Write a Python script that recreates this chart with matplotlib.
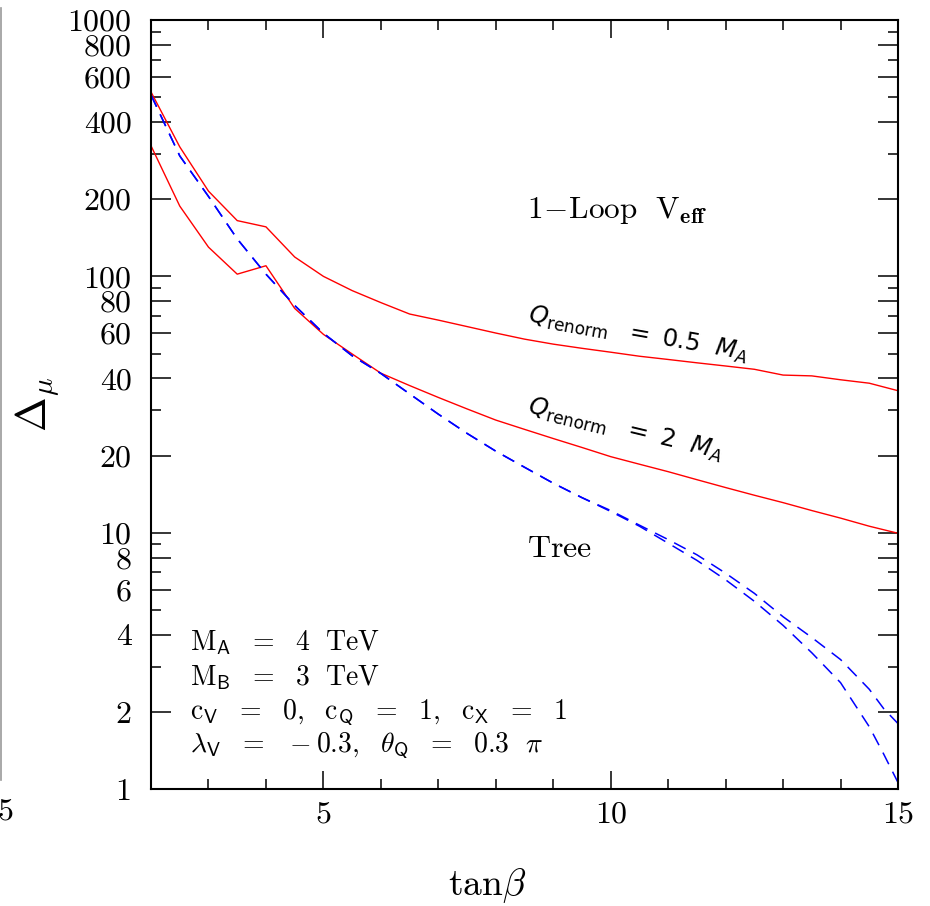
import numpy as np
import matplotlib
matplotlib.use("Agg")
import matplotlib.pyplot as plt
from matplotlib.ticker import FixedLocator, NullFormatter
from matplotlib.lines import Line2D

plt.rcParams["font.family"] = "serif"
plt.rcParams["font.serif"] = ["cmr10", "DejaVu Serif"]
plt.rcParams["mathtext.fontset"] = "cm"
plt.rcParams["axes.unicode_minus"] = False

# tan(beta) grid
tanb = [2.0, 2.5, 3.0, 3.5, 4.0, 4.5, 5.0, 5.5, 6.0, 6.5, 7.0, 7.5, 8.0, 8.5,
        9.0, 9.5, 10.0, 10.5, 11.0, 11.5, 12.0, 12.5, 13.0, 13.5, 14.0, 14.5, 15.0]

# one-loop effective potential, Q_renorm = 0.5 M_A
loop_half = [524, 320, 215, 165, 156, 119, 100, 88, 79, 71.3, 67.5, 63.7, 60.1, 56.9,
             54.4, 52.4, 50.6, 48.8, 47.4, 46.0, 44.7, 43.4, 41.2, 40.9, 39.5, 38.3, 35.8]

# one-loop effective potential, Q_renorm = 2 M_A
loop_two = [323, 188, 130, 102, 110, 75, 59.4, 49.8, 41.9, 37.5, 33.7, 30.4, 27.5, 25.3,
            23.3, 21.5, 19.8, 18.5, 17.3, 16.1, 15.0, 14.0, 13.1, 12.2, 11.4, 10.6, 9.95]

# tree-level curves
tanb_tree = [2.0, 2.5, 3.0, 3.5, 4.0, 4.5, 5.0, 5.5, 6.0, 6.5, 7.0, 7.5, 8.0, 8.5,
             9.0, 9.5, 10.0, 10.5, 11.0, 11.5, 12.0, 12.5, 13.0, 13.5, 14.0, 14.5,
             14.75, 15.0]
tree_a = [510, 295, 205, 140, 102, 77, 60, 49, 41.8, 34.8, 29.0, 24.4, 20.8, 18.0,
          15.6, 13.7, 12.2, 10.7, 9.4, 8.2, 6.95, 5.8, 4.7, 3.9, 3.2, 2.45, 2.06, 1.8]
tree_b = [510, 295, 205, 140, 102, 77, 60, 49, 41.8, 34.8, 29.0, 24.4, 20.8, 18.0,
          15.6, 13.7, 12.1, 10.6, 9.1, 7.8, 6.55, 5.4, 4.35, 3.4, 2.6, 1.75, 1.37, 1.06]

y_major = [1, 2, 4, 6, 8, 10, 20, 40, 60, 80, 100, 200, 400, 600, 800, 1000]
y_major_labels = ["1", "2", "4", "6", "8", "10", "20", "40", "60", "80",
                  "100", "200", "400", "600", "800", "1000"]
y_minor = [3, 5, 7, 9, 30, 50, 70, 90, 300, 500, 700, 900]
x_major = [5, 10, 15]
x_major_labels = ["5", "10", "15"]
x_minor = [3, 4, 6, 7, 8, 9, 11, 12, 13, 14]

fig = plt.figure(figsize=(9.30, 9.06), dpi=100)
ax = fig.add_axes([0.1624, 0.1291, 0.8032, 0.8488])

ax.plot(tanb, loop_half, color="red", lw=1.0)
ax.plot(tanb, loop_two, color="red", lw=1.0)
ax.plot(tanb_tree, tree_a, color="blue", lw=1.1, linestyle=(0, (8.5, 5.5)))
ax.plot(tanb_tree, tree_b, color="blue", lw=1.1, linestyle=(0, (8.5, 5.5)))

ax.set_yscale("log")
ax.set_xlim(2, 15)
ax.set_ylim(1, 1000)

ax.yaxis.set_major_locator(FixedLocator(y_major))
ax.yaxis.set_minor_locator(FixedLocator(y_minor))
ax.set_yticklabels(y_major_labels)
ax.yaxis.set_minor_formatter(NullFormatter())
ax.xaxis.set_major_locator(FixedLocator(x_major))
ax.xaxis.set_minor_locator(FixedLocator(x_minor))
ax.set_xticklabels(x_major_labels)

ax.tick_params(axis="both", which="both", direction="in", top=True, right=True,
               color="black", width=1.1)
ax.tick_params(axis="y", which="major", length=14.5, pad=14, labelsize=23)
ax.tick_params(axis="y", which="minor", length=7)
ax.tick_params(axis="x", which="major", length=13, pad=9, labelsize=23)
ax.tick_params(axis="x", which="minor", length=7)
for sp in ax.spines.values():
    sp.set_linewidth(1.5)

ax.set_xlabel(r"$\mathrm{tan}\beta$", fontsize=27)
ax.xaxis.set_label_coords(0.45, -0.1)
ax.set_ylabel(r"$\Delta_\mu$", fontsize=30)
ax.yaxis.set_label_coords(-0.121, 0.5)

ax.text(8.54, 169, r"$\mathrm{1\!-\!Loop\ \ V}_{\mathsf{\mathbf{eff}}}$",
        fontsize=22.5, ha="left", va="baseline")
ax.text(8.54, 8.04, r"$\mathrm{Tree}$", fontsize=23, ha="left", va="baseline")

ax.text(8.54, 66.6, r"$Q_{\mathrm{renorm}}\ \ =\ \mathit{0.5}\ \ M_A$",
        math_fontfamily="dejavusans", fontsize=17.5, rotation=-10,
        rotation_mode="anchor", ha="left", va="baseline")
ax.text(8.54, 29.2, r"$Q_{\mathrm{renorm}}\ \ =\ \mathit{2}\ \ M_A$",
        math_fontfamily="dejavusans", fontsize=17.5, rotation=-13.5,
        rotation_mode="anchor", ha="left", va="baseline")

params = [
    (3.49, r"$\mathrm{M}_{\mathsf{A}}\ \ \mathrm{=\ \ 4\ \ TeV}$"),
    (2.55, r"$\mathrm{M}_{\mathsf{B}}\ \ \mathrm{=\ \ 3\ \ TeV}$"),
    (1.89, r"$\mathrm{c}_{\mathsf{V}}\ \ \mathrm{=\ \ 0,\ \ c}_{\mathsf{Q}}\ \ \mathrm{=\ \ 1,\ \ c}_{\mathsf{X}}\ \ \mathrm{=\ \ 1}$"),
    (1.40, r"$\lambda_{\mathsf{V}}\ \ \mathrm{=\ \ -0.3,}\ \ \theta_{\mathsf{Q}}\ \ \mathrm{=\ \ 0.3}\ \ \pi$"),
]
for yv, s in params:
    ax.text(2.68, yv, s, fontsize=20, ha="left", va="baseline")

# edge of the neighbouring panel
fig.add_artist(Line2D([0.0008, 0.0008], [1 - 8 / 906, 1 - 780 / 906],
                      transform=fig.transFigure, color="#999999", lw=1.2))
fig.text(-0.003, 1 - 812 / 906, "5", fontsize=23, ha="left", va="center")

fig.savefig("out.png", dpi=100)
